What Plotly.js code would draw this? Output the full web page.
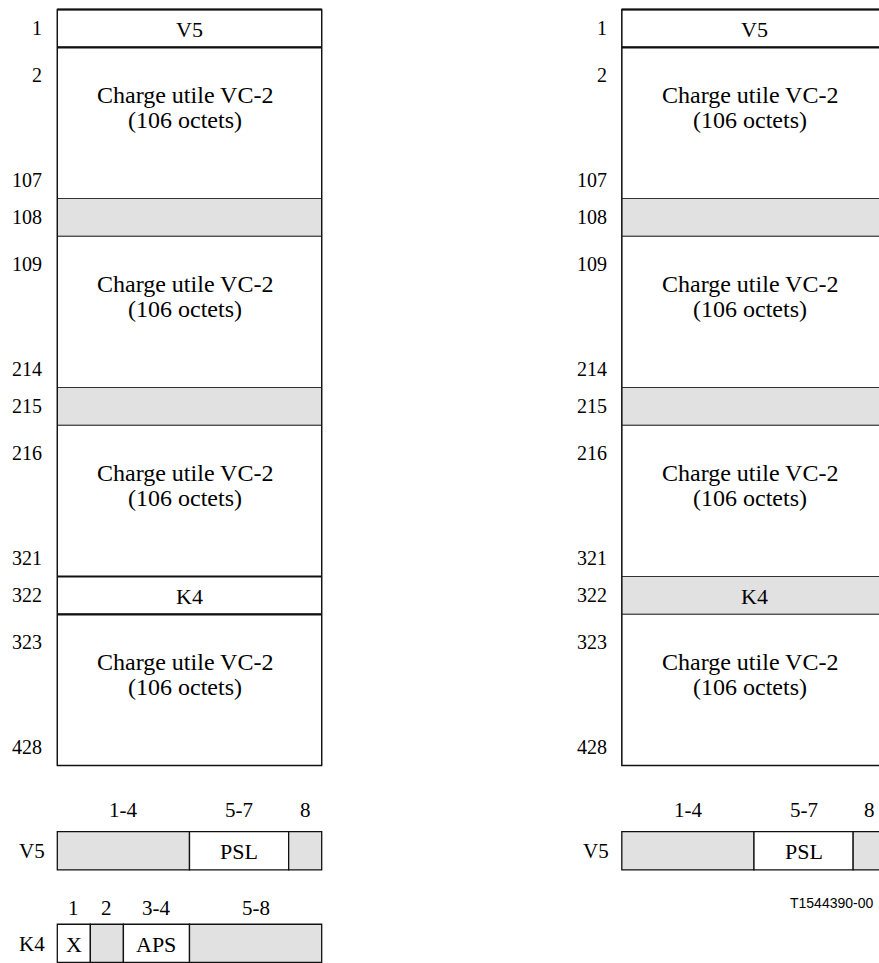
<!DOCTYPE html>
<html><head><meta charset="utf-8">
<script src="https://cdn.plot.ly/plotly-3.0.1.min.js"></script>
<style>html,body{margin:0;padding:0;background:#fff;}#chart{width:879px;height:963px;}</style>
</head><body><div id="chart"></div>
<script>
// ---- diagram content ----
const sectionFirstByte = [1, 2, 108, 109, 215, 216, 322, 323];
const sectionLastByte  = [1, 107, 108, 214, 215, 321, 322, 428];
const sectionNames     = ['V5', 'payload', '', 'payload', '', 'payload', 'K4', 'payload'];
const leftShaded  = [false, false, true, false, true, false, false, false];
const rightShaded = [false, false, true, false, true, false, true, false];
const payloadLine1 = 'Charge utile VC-2';
const payloadLine2 = '(106 octets)';

const v5FieldFirstBit = [1, 5, 8];
const v5FieldLastBit  = [4, 7, 8];
const v5FieldHeaders  = ['1-4', '5-7', '8'];
const v5FieldNames    = ['', 'PSL', ''];
const v5FieldShaded   = [true, false, true];

const k4FieldFirstBit = [1, 2, 3, 5];
const k4FieldLastBit  = [1, 2, 4, 8];
const k4FieldHeaders  = ['1', '2', '3-4', '5-8'];
const k4FieldNames    = ['X', '', 'APS', ''];
const k4FieldShaded   = [false, true, false, true];

const figureId = 'T1544390-00';

// ---- drawing ----
const GRAY = '#e1e1e1';
const INK = '#111111';
const SERIF = '"Liberation Serif", "Times New Roman", Times, serif';
const SANS = '"Liberation Sans", Arial, sans-serif';
const PAYLOAD_UNITS = 4;      // payload blocks drawn compressed to 4 row units
const RIGHT_OFFSET = 17.08;   // horizontal offset of the second panel (in bit units)
const shapes = [], annotations = [];

function sectionHeight(i) { return sectionFirstByte[i] === sectionLastByte[i] ? 1 : PAYLOAD_UNITS; }

function txt(x, y, text, size, opts) {
  annotations.push(Object.assign({
    xref: 'x', yref: 'y', x: x, y: y, text: text, showarrow: false,
    xanchor: 'center', yanchor: 'middle',
    font: { family: SERIF, size: size, color: '#000' }
  }, opts || {}));
}

function drawPanel(x0, shaded) {
  const x1 = x0 + 8;
  let y = 0;
  const thick = [];
  for (let i = 0; i < sectionFirstByte.length; i++) {
    const h = sectionHeight(i);
    const y0 = y, y1 = y + h;
    shapes.push({ type: 'rect', xref: 'x', yref: 'y', x0: x0, x1: x1, y0: y0, y1: y1,
      fillcolor: shaded[i] ? GRAY : '#ffffff', line: { color: '#333', width: 1 }, layer: 'below' });
    if (h === 1) {
      if (!shaded[i]) { thick.push(y0, y1); }
      txt(x0 - 0.40, y0 + 0.5, String(sectionFirstByte[i]), 20, { xanchor: 'right' });
      if (sectionNames[i]) txt(x0 + 4, y0 + 0.52, sectionNames[i], 22);
    } else {
      txt(x0 - 0.40, y0 + 0.72, String(sectionFirstByte[i]), 20, { xanchor: 'right' });
      txt(x0 - 0.40, y1 - 0.49, String(sectionLastByte[i]), 20, { xanchor: 'right' });
      txt(x0 + 3.87, y0 + 1.255, payloadLine1, 24);
      txt(x0 + 3.87, y0 + 1.935, payloadLine2, 24);
    }
    y = y1;
  }
  thick.forEach(function (yy) {
    shapes.push({ type: 'line', xref: 'x', yref: 'y', x0: x0, x1: x1, y0: yy, y1: yy,
      line: { color: INK, width: 2.2 } });
  });
  shapes.push({ type: 'rect', xref: 'x', yref: 'y', x0: x0, x1: x1, y0: 0, y1: y,
    line: { color: INK, width: 1.3 } });
}

function drawField(x0, yTop, yHeader, first, last, headers, names, shadedArr, label) {
  const h = 1.01;
  for (let i = 0; i < first.length; i++) {
    const a = x0 + first[i] - 1, b = x0 + last[i];
    shapes.push({ type: 'rect', xref: 'x', yref: 'y', x0: a, x1: b, y0: yTop, y1: yTop + h,
      fillcolor: shadedArr[i] ? GRAY : '#ffffff', line: { color: INK, width: 1.3 } });
    txt((a + b) / 2, yHeader, headers[i], 21);
    if (names[i]) txt((a + b) / 2, yTop + h / 2 + 0.02, names[i], 22);
  }
  txt(x0 - 0.775, yTop + h / 2 + 0.02, label, 21);
}

drawPanel(0, leftShaded);
drawPanel(RIGHT_OFFSET, rightShaded);
drawField(0, 21.75, 21.19, v5FieldFirstBit, v5FieldLastBit, v5FieldHeaders, v5FieldNames, v5FieldShaded, 'V5');
drawField(0, 24.20, 23.78, k4FieldFirstBit, k4FieldLastBit, k4FieldHeaders, k4FieldNames, k4FieldShaded, 'K4');
drawField(RIGHT_OFFSET, 21.75, 21.19, v5FieldFirstBit, v5FieldLastBit, v5FieldHeaders, v5FieldNames, v5FieldShaded, 'V5');
// figure id, right edge kept just inside the window
txt(24.78, 23.63, figureId, 14, { xanchor: 'right', font: { family: SANS, size: 14, color: '#000' } });

const layout = {
  width: 879, height: 963,
  margin: { l: 0, r: 0, t: 0, b: 0, pad: 0 },
  paper_bgcolor: '#ffffff', plot_bgcolor: '#ffffff',
  showlegend: false,
  xaxis: { range: [-1.7337, 24.862], visible: false, fixedrange: true },
  yaxis: { range: [25.225, -0.2513], visible: false, fixedrange: true },
  shapes: shapes, annotations: annotations
};
Plotly.newPlot('chart', [], layout, { staticPlot: true, displayModeBar: false });
</script>
</body></html>
